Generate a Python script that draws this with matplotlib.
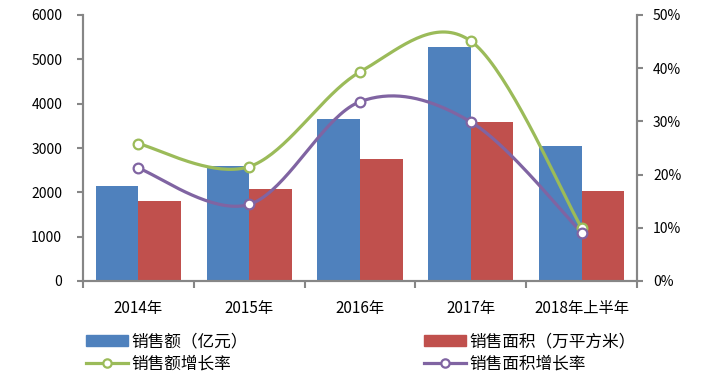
import numpy as np
import matplotlib
matplotlib.use("Agg")
import matplotlib.pyplot as plt
from matplotlib.patches import Patch
from matplotlib.lines import Line2D

plt.rcParams['font.family'] = ['Noto Sans CJK SC', 'DejaVu Sans']

# ---- data ----
years = ["2014年", "2015年", "2016年", "2017年", "2018年上半年"]
sales_amount = [2150, 2600, 3650, 5280, 3045]       # 销售额（亿元）
sales_area = [1800, 2070, 2760, 3580, 2030]         # 销售面积（万平方米）
amount_growth = [25.8, 21.5, 39.3, 45.1, 10.0]      # 销售额增长率 %
area_growth = [21.2, 14.4, 33.7, 29.9, 9.1]         # 销售面积增长率 %

c_blue = "#4F81BD"
c_red = "#C0504D"
c_green = "#9BBB59"
c_purple = "#8064A2"
c_axis = "#868686"


def smooth(y, n=40):
    # excel-like smoothed line (catmull-rom as bezier)
    x = np.arange(len(y), dtype=float)
    y = np.asarray(y, dtype=float)
    xs, ys = [], []
    for i in range(len(y) - 1):
        i0 = max(i - 1, 0)
        i3 = min(i + 2, len(y) - 1)
        p0 = np.array([x[i], y[i]])
        p3 = np.array([x[i + 1], y[i + 1]])
        p1 = p0 + (np.array([x[i + 1], y[i + 1]]) - np.array([x[i0], y[i0]])) / 6
        p2 = p3 - (np.array([x[i3], y[i3]]) - np.array([x[i], y[i]])) / 6
        t = np.linspace(0, 1, n)[:, None]
        b = ((1 - t) ** 3 * p0 + 3 * (1 - t) ** 2 * t * p1
             + 3 * (1 - t) * t ** 2 * p2 + t ** 3 * p3)
        xs.append(b[:, 0])
        ys.append(b[:, 1])
    return np.concatenate(xs), np.concatenate(ys)


fig = plt.figure(figsize=(7.08, 3.79), dpi=100)
ax = fig.add_axes([83 / 708, 1 - 281 / 379, 554 / 708, 266 / 379])

x = np.arange(len(years))
w = 0.385
ax.bar(x - w / 2, sales_amount, width=w, color=c_blue, zorder=2)
ax.bar(x + w / 2, sales_area, width=w, color=c_red, zorder=2)

ax.set_xlim(-0.5, len(years) - 0.5)
ax.set_ylim(0, 6000)
ax.set_yticks(np.arange(0, 6001, 1000))
ax.set_xticks(x)
ax.set_xticklabels(years, fontsize=11)
ax.set_xticks(np.arange(-0.5, len(years), 1), minor=True)
ax.tick_params(axis='x', which='major', length=0, pad=14)
ax.tick_params(axis='x', which='minor', length=5, width=1.5, color=c_axis)
ax.tick_params(axis='y', length=4, width=1.5, color=c_axis, pad=11, labelsize=10)

ax2 = ax.twinx()
ax2.set_ylim(0, 50)
ax2.set_yticks(np.arange(0, 51, 10))
ax2.set_yticklabels([f"{v}%" for v in range(0, 51, 10)])
ax2.tick_params(axis='y', length=4.5, width=1.5, color=c_axis, pad=7, labelsize=10)

for s in (ax, ax2):
    s.spines['top'].set_visible(False)
    for k in ('left', 'right', 'bottom'):
        s.spines[k].set_color(c_axis)
        s.spines[k].set_linewidth(1.5)

sx, sy = smooth(amount_growth)
ax2.plot(sx, sy, color=c_green, lw=2.3, zorder=3)
ax2.plot(x, amount_growth, 'o', ms=7, mfc='white', mec=c_green, mew=1.6, zorder=4)
sx, sy = smooth(area_growth)
ax2.plot(sx, sy, color=c_purple, lw=2.3, zorder=3)
ax2.plot(x, area_growth, 'o', ms=7, mfc='white', mec=c_purple, mew=1.6, zorder=4)

# legend, two columns placed separately
h_amount = Patch(color=c_blue)
h_area = Patch(color=c_red)
h_g = Line2D([], [], color=c_green, lw=2.3, marker='o', ms=6, mfc='white', mec=c_green, mew=1.6)
h_p = Line2D([], [], color=c_purple, lw=2.3, marker='o', ms=6, mfc='white', mec=c_purple, mew=1.6)

yc = 1 - 353 / 379
kw = dict(loc='center left', frameon=False, fontsize=12, borderpad=0,
          handlelength=2.5, handleheight=0.65, handletextpad=0.25, labelspacing=0.3,
          borderaxespad=0)
fig.legend([h_amount, h_g], ["销售额（亿元）", "销售额增长率"],
           bbox_to_anchor=(86 / 708, yc), **kw)
fig.legend([h_area, h_p], ["销售面积（万平方米）", "销售面积增长率"],
           bbox_to_anchor=(424 / 708, yc), **kw)

fig.savefig("out.png", dpi=100)
